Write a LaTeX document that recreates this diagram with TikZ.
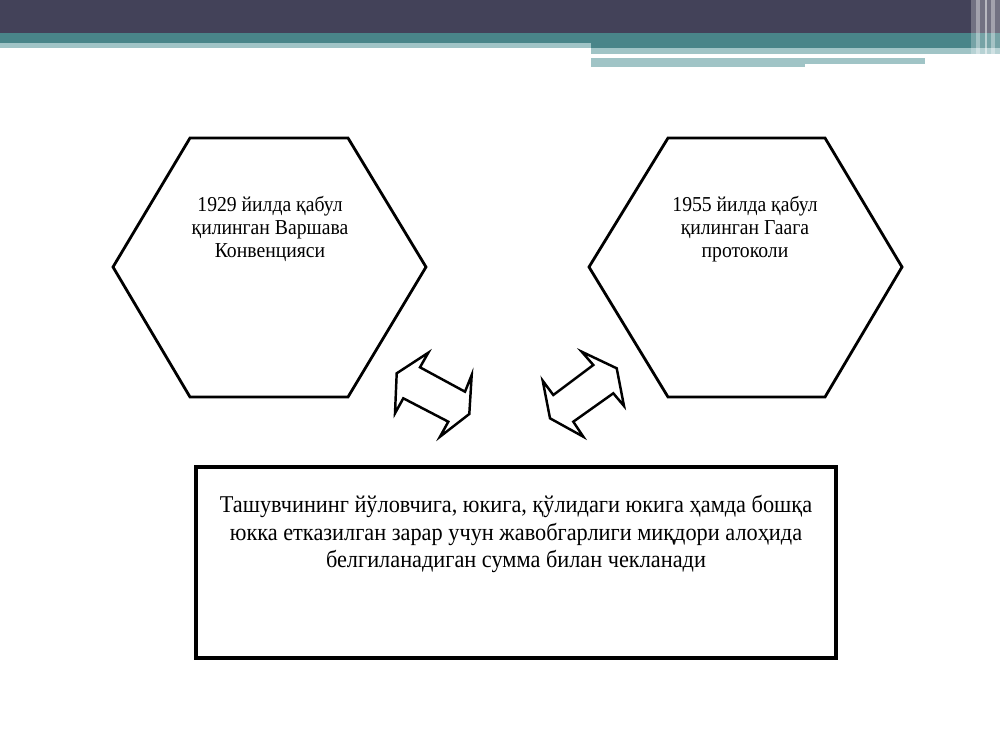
\documentclass[tikz,border=0pt]{standalone}
\usepackage{fontspec}
\setmainfont{Liberation Serif}
\definecolor{headdark}{RGB}{67,66,89}
\definecolor{headteal}{RGB}{73,133,137}
\definecolor{headpale}{RGB}{160,196,198}
\tikzset{
  hexline/.style={black, line width=1.6pt, line join=miter},
  dblarrow/.style={black, line width=1.4pt, line join=miter, fill=white},
  hextext/.style={align=center, yscale=1.08, transform shape, font=\fontsize{11.2}{12.1}\selectfont},
  boxtext/.style={align=center, yscale=1.08, transform shape, font=\fontsize{12.7}{14.7}\selectfont}
}
\begin{document}
\begin{tikzpicture}[x=0.02cm, y=-0.02cm]
\tikzstyle{every node}+=[inner sep=0pt]
\useasboundingbox (0,0) rectangle (1000,750);
\fill [white] (0,0) rectangle (1000,750);
\fill [headdark] (0,0) rectangle (1000,33);
\fill [headteal] (0,33) rectangle (1000,43);
\fill [headpale] (0,43) rectangle (591,48);
\fill [headteal] (591,43) rectangle (1000,48);
\fill [headpale] (591,48) rectangle (1000,54);
\fill [headpale] (591,58) rectangle (805,67);
\fill [headpale] (805,58) rectangle (925,64);
\fill [white, opacity=0.25] (971,0) rectangle (1000,67);
\fill [white, opacity=0.35] (976,0) rectangle (980,67);
\fill [white, opacity=0.5] (985,0) rectangle (987,67);
\fill [white, opacity=0.35] (991,0) rectangle (995,67);
\draw [hexline] (190,138) -- (348,138) -- (426,267) -- (348,397) -- (190,397) -- (113,267) -- cycle;
\draw [hexline] (668,138) -- (825,138) -- (902,267) -- (825,397) -- (668,397) -- (589,267) -- cycle;
\draw (270,229) node [hextext] (warsaw) {1929 йилда қабул\\ қилинган Варшава\\ Конвенцияси};
\draw (745,229) node [hextext] (hague) {1955 йилда қабул\\ қилинган Гаага\\ протоколи};
\draw [dblarrow] (428.3,352.7) -- (396.7,373.3) -- (395,413.3) -- (403.3,398.3) -- (448.3,421.7) -- (440,436.7) -- (469.3,414) -- (471.7,375) -- (465,391.7) -- (420,367.3) -- cycle;
\draw [dblarrow] (581.7,351.7) -- (616.7,368.3) -- (624,406) -- (613.3,393.3) -- (573.3,421.7) -- (583.3,436.7) -- (550,418.3) -- (542.7,380.7) -- (553.3,395) -- (593.3,365) -- cycle;
\draw [black, line width=2pt] (196,467) rectangle (836,658);
\draw (516,534) node [boxtext] (limit) {Ташувчининг йўловчига, юкига, қўлидаги юкига ҳамда бошқа\\ юкка етказилган зарар учун жавобгарлиги миқдори алоҳида\\ белгиланадиган сумма билан чекланади};
\end{tikzpicture}
\end{document}
